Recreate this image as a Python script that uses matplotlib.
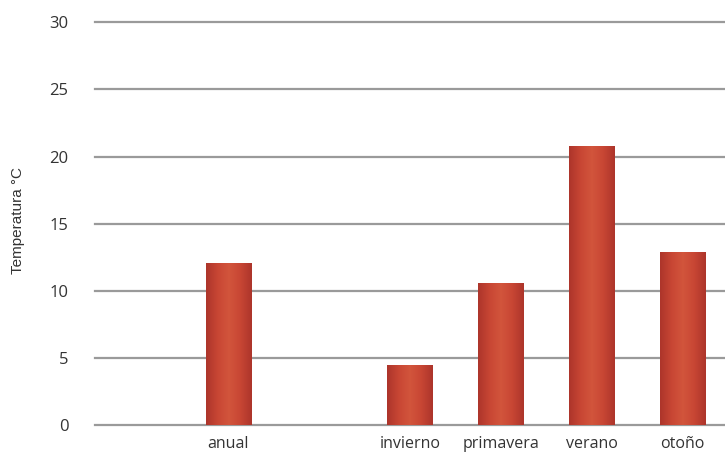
import numpy as np
import matplotlib
matplotlib.use("Agg")
import matplotlib.pyplot as plt
from matplotlib.colors import LinearSegmentedColormap

categories = ["", "anual", "", "invierno", "primavera", "verano", "otoño"]
values = [0, 12.1, 0, 4.5, 10.6, 20.8, 12.9]
yticks = [0, 5, 10, 15, 20, 25, 30]

plt.rcParams['font.family'] = ['Open Sans', 'DejaVu Sans']

fig = plt.figure(figsize=(7.25, 4.53), dpi=100)
ax = fig.add_axes([0.131, 0.0618, 0.869, 0.889])

x = np.arange(len(categories))

# gridlines behind the bars
for t in yticks:
    ax.axhline(t, color='#9a9a9a', lw=1.6, zorder=1, clip_on=False)

grad = LinearSegmentedColormap.from_list('bar', ['#ad352b', '#c84634', '#d2553c', '#c84634', '#ad352b'])
bars = ax.bar(x, values, width=0.5, color='#c4432e', zorder=2)
for b, v in zip(bars, values):
    if v <= 0:
        b.set_visible(False)
        continue
    img = ax.imshow(np.linspace(0, 1, 64).reshape(1, -1), cmap=grad, aspect='auto',
                    extent=[b.get_x(), b.get_x() + b.get_width(), 0, v], zorder=3)
    img.set_clip_path(b)
ax.set_xlim(-0.47, 6.47)
ax.set_ylim(0, 30)

ax.set_xticks(x)
ax.set_xticklabels(categories, fontsize=11.5, color='#333333')
ax.set_yticks(yticks)
ax.set_yticklabels([str(t) for t in yticks], fontsize=12, color='#333333')
ax.tick_params(axis='y', length=0, pad=19)
ax.tick_params(axis='x', length=0, pad=8)
for s in ax.spines.values():
    s.set_visible(False)

fig.text(0.025, 0.514, 'Temperatura °C', rotation=90, va='center', ha='center',
         fontsize=11, color='#333333', family=['Liberation Sans', 'DejaVu Sans'])

fig.savefig('out.png', dpi=100, facecolor='white')
